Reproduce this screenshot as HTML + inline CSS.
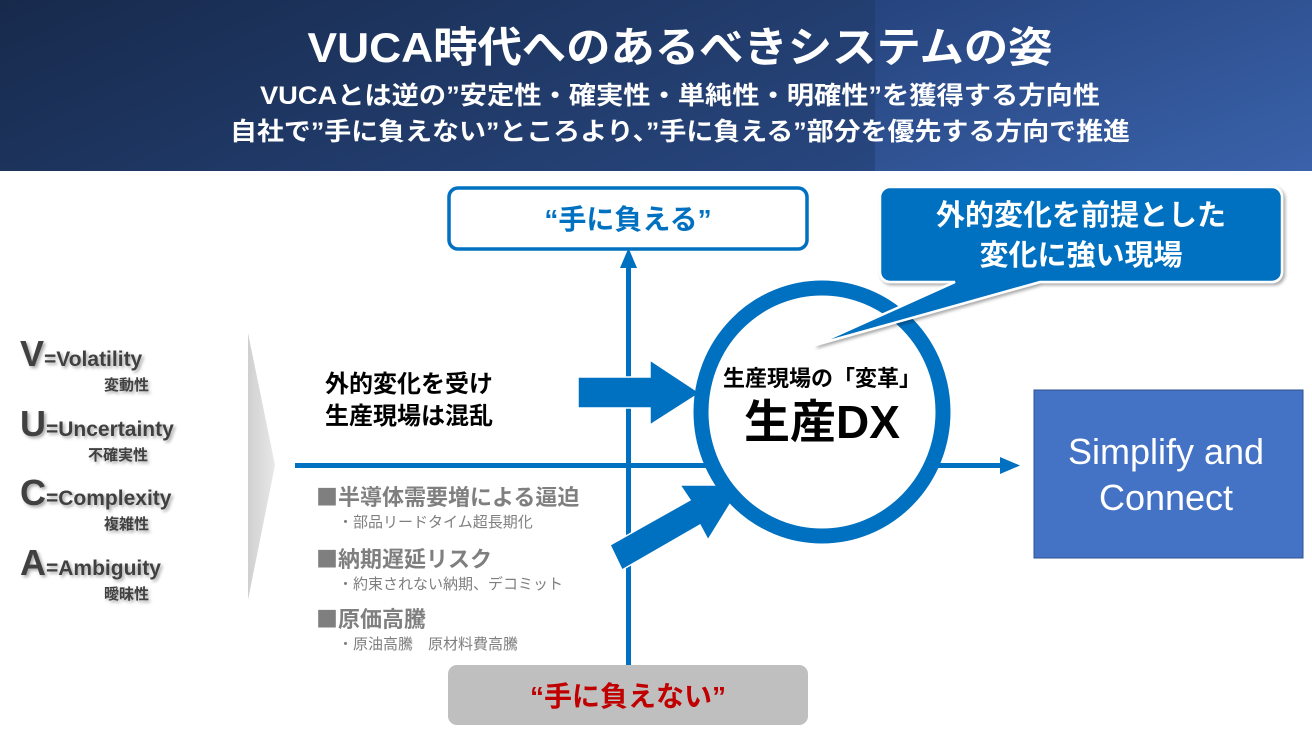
<!DOCTYPE html>
<html><head><meta charset="utf-8"><style>
html,body{margin:0;padding:0;background:#fff}
svg{display:block}
text{font-family:"Liberation Sans","Noto Sans CJK JP",sans-serif}
.cj{font-family:"Noto Sans CJK JP",sans-serif}
</style></head><body>
<svg width="1312" height="739" viewBox="0 0 1312 739" xmlns="http://www.w3.org/2000/svg">
<defs>
<linearGradient id="hd" x1="0" y1="0" x2="1" y2="0.3">
<stop offset="0" stop-color="#172a4c"/><stop offset="1" stop-color="#2a4a86"/></linearGradient>
<linearGradient id="hd2" x1="0" y1="0" x2="1" y2="1">
<stop offset="0" stop-color="#26447e"/><stop offset="1" stop-color="#3a62aa"/></linearGradient>
<linearGradient id="chev" x1="0" y1="0" x2="1" y2="0">
<stop offset="0" stop-color="#d0d0d0"/><stop offset="1" stop-color="#e8e8e8"/></linearGradient>
<filter id="sh" x="-10%" y="-10%" width="130%" height="130%"><feDropShadow dx="2" dy="2" stdDeviation="1.5" flood-color="#000" flood-opacity="0.35"/></filter>
</defs>
<rect x="0" y="0" width="1312" height="171" fill="url(#hd)"/>
<rect x="875" y="0" width="437" height="171" fill="url(#hd2)"/>
<text x="680" y="62" fill="#fff" font-size="42" font-weight="bold" text-anchor="middle" textLength="745" lengthAdjust="spacingAndGlyphs">VUCA時代へのあるべきシステムの姿</text>
<text x="680" y="104" fill="#fff" font-size="25" font-weight="bold" text-anchor="middle" textLength="840" lengthAdjust="spacingAndGlyphs">VUCAとは逆の”安定性・確実性・単純性・明確性”を獲得する方向性</text>
<text x="680" y="140" fill="#fff" font-size="25" font-weight="bold" text-anchor="middle" textLength="900" lengthAdjust="spacingAndGlyphs">自社で”手に負えない”ところより、”手に負える”部分を優先する方向で推進</text>

<polygon points="248,333 275,465 248,600" fill="url(#chev)"/>

<g fill="#404040" font-weight="bold" filter="url(#sh)">
<text x="20" y="366" font-size="36">V<tspan font-size="21">=Volatility</tspan></text>
<text x="104" y="390" font-size="15">変動性</text>
<text x="20" y="436" font-size="36">U<tspan font-size="21">=Uncertainty</tspan></text>
<text x="88" y="460" font-size="15">不確実性</text>
<text x="20" y="505" font-size="36">C<tspan font-size="21">=Complexity</tspan></text>
<text x="104" y="529" font-size="15">複雑性</text>
<text x="20" y="575" font-size="36">A<tspan font-size="21">=Ambiguity</tspan></text>
<text x="104" y="599" font-size="15">曖昧性</text>
</g>

<rect x="626" y="262" width="5" height="403" fill="#0070c0"/>
<polygon points="628.5,248 620,268 637,268" fill="#0070c0"/>
<rect x="295" y="463" width="710" height="5" fill="#0070c0"/>
<polygon points="1020,465.5 1000,457 1000,474" fill="#0070c0"/>

<rect x="449" y="188" width="358" height="61" rx="9" fill="#fff" stroke="#0070c0" stroke-width="3.5"/>
<text x="628" y="229" fill="#0070c0" font-size="28" font-weight="bold" text-anchor="middle">“手に負える”</text>

<rect x="448" y="665" width="360" height="60" rx="9" fill="#bfbfbf"/>
<text x="628" y="706" fill="#c00000" font-size="28" font-weight="bold" text-anchor="middle">“手に負えない”</text>

<text x="325" y="392" fill="#000" font-size="24" font-weight="bold">外的変化を受け</text>
<text x="325" y="424" fill="#000" font-size="24" font-weight="bold">生産現場は混乱</text>

<g fill="#7f7f7f" font-weight="bold">
<text x="316" y="505" font-size="22"><tspan class="cj">■</tspan>半導体需要増による逼迫</text>
<text x="338" y="527" font-size="15" font-weight="normal">・部品リードタイム超長期化</text>
<text x="316" y="567" font-size="22"><tspan class="cj">■</tspan>納期遅延リスク</text>
<text x="338" y="589" font-size="15" font-weight="normal">・約束されない納期、デコミット</text>
<text x="316" y="627" font-size="22"><tspan class="cj">■</tspan>原価高騰</text>
<text x="338" y="649" font-size="15" font-weight="normal">・原油高騰　原材料費高騰</text>
</g>

<polygon points="578,377 650,377 650,360 700,393 650,425 650,408 578,408" fill="#0070c0" stroke="#fff" stroke-width="1.5"/>
<polygon points="610,545 690,500 680,485 742,485 708,540 700,525 622,570" fill="#0070c0" stroke="#fff" stroke-width="1.5"/>

<ellipse cx="822" cy="412" rx="121" ry="124" fill="#fff" stroke="#0070c0" stroke-width="15"/>
<text x="822" y="386" fill="#000" font-size="22" font-weight="bold" text-anchor="middle">生産現場の「変革」</text>
<text x="822" y="438" fill="#000" font-size="46" font-weight="bold" text-anchor="middle">生産DX</text>

<g filter="url(#sh)">
<path d="M890,187 H1272 a10,10 0 0 1 10,10 V272 a10,10 0 0 1 -10,10 H1040 L815,345 L955,282 H890 a10,10 0 0 1 -10,-10 V197 a10,10 0 0 1 10,-10 Z" fill="#0070c0" stroke="#fff" stroke-width="2.5"/>
</g>
<text x="1081" y="225" fill="#fff" font-size="29" font-weight="bold" text-anchor="middle">外的変化を前提とした</text>
<text x="1081" y="265" fill="#fff" font-size="29" font-weight="bold" text-anchor="middle">変化に強い現場</text>

<rect x="1034" y="390" width="269" height="168" fill="#4472c4" stroke="#2f528f" stroke-width="1"/>
<text x="1166" y="464" fill="#fff" font-size="36" text-anchor="middle">Simplify and</text>
<text x="1166" y="510" fill="#fff" font-size="36" text-anchor="middle">Connect</text>
</svg>
</body></html>
